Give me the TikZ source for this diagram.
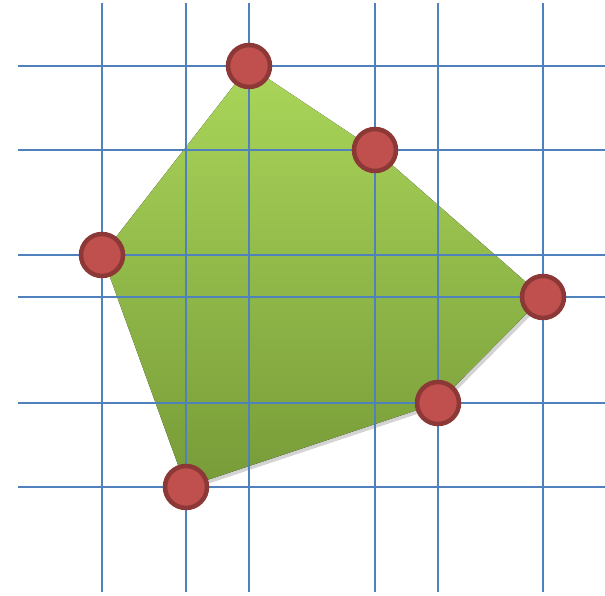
\documentclass[tikz,border=0pt]{standalone}
\usepackage{tikz}
\usetikzlibrary{shadows}
\definecolor{gridblue}{HTML}{4F81BD}
\definecolor{dotred}{HTML}{C0504D}
\definecolor{dotrim}{HTML}{8C3836}
\definecolor{hulltop}{HTML}{AAD65A}
\definecolor{hullbot}{HTML}{779B38}
\tikzset{vertex/.style={circle,fill=dotred,draw=dotrim,line width=4.5pt,minimum size=42pt,inner sep=0pt}}
\tikzset{gridline/.style={gridblue,line width=2pt}}

\begin{document}
\begin{tikzpicture}[x=1pt, y=-1pt]
    \useasboundingbox (0,0) rectangle (605,596);

    % the points
    \coordinate (p-1) at (249,66);
    \coordinate (p-2) at (375,150);
    \coordinate (p-3) at (543,297);
    \coordinate (p-4) at (438,403);
    \coordinate (p-5) at (186,487);
    \coordinate (p-6) at (102,255);

    % hull
    \fill[top color=hulltop, bottom color=hullbot,
      drop shadow={shadow xshift=3pt, shadow yshift=-3pt, opacity=0.35}]
      (p-1) -- (p-2) -- (p-3) -- (p-4) -- (p-5) -- (p-6) -- cycle;

    % grid through the points
    \foreach \x in {102,186,249,375,438,543}
      \draw[gridline] (\x,3) -- (\x,592);
    \foreach \y in {66,150,255,297,403,487}
      \draw[gridline] (18,\y) -- (605,\y);

    \foreach \i in {1,...,6}
      \node[vertex] (b-\i) at (p-\i) {};
\end{tikzpicture}
\end{document}
